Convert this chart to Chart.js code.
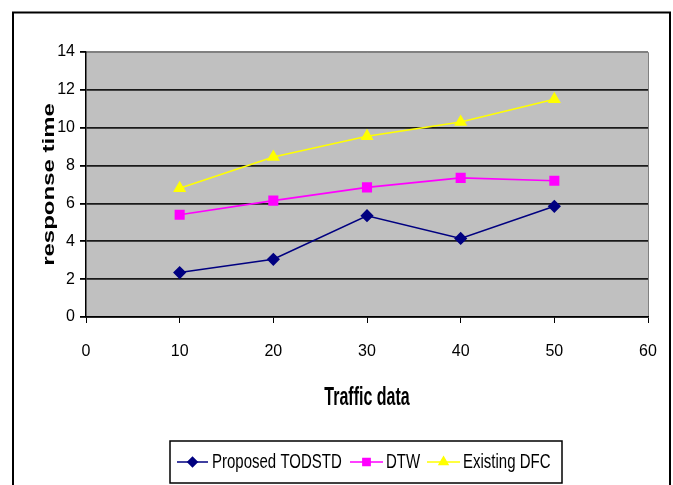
<!DOCTYPE html>
<html>
<head>
<meta charset="utf-8">
<script src="https://cdn.jsdelivr.net/npm/chart.js@4.4.0/dist/chart.umd.min.js"></script>
<style>
html,body{margin:0;padding:0;background:#fff;}
#wrap{position:relative;width:673px;height:485px;}
</style>
</head>
<body>
<div id="wrap"><canvas id="c" width="673" height="485"></canvas></div>
<script>
const xValues = [10, 20, 30, 40, 50];
const proposedTODSTD = [2.35, 3.05, 5.35, 4.15, 5.85];
const dtw = [5.4, 6.15, 6.85, 7.35, 7.2];
const existingDFC = [6.8, 8.45, 9.55, 10.3, 11.5];
const seriesNames = ['Proposed TODSTD', 'DTW', 'Existing DFC'];
const xTitle = 'Traffic data';
const yTitle = 'response time';

const FONT = '"Liberation Sans", Arial, sans-serif';

function pts(ys){ return xValues.map((x,i)=>({x:x, y:ys[i]})); }

function stretchedText(ctx, text, x, y, sx, sy, font, align, rot){
  ctx.save();
  ctx.translate(x, y);
  if (rot) ctx.rotate(rot);
  ctx.scale(sx, sy);
  ctx.font = font;
  ctx.fillStyle = '#000';
  ctx.textAlign = align || 'center';
  ctx.textBaseline = 'middle';
  ctx.fillText(text, 0, 0);
  ctx.restore();
}

const decor = {
  id: 'decor',
  beforeDraw(chart){
    const {ctx, chartArea: a} = chart;
    ctx.save();
    ctx.fillStyle = '#fff';
    ctx.fillRect(0,0,chart.width,chart.height);
    ctx.fillStyle = '#C0C0C0';
    ctx.fillRect(a.left, a.top, a.right - a.left, a.bottom - a.top);
    ctx.strokeStyle = '#808080';
    ctx.lineWidth = 1;
    ctx.beginPath();
    ctx.moveTo(a.left, a.top + 0.5);
    ctx.lineTo(a.right + 0.5, a.top + 0.5);
    ctx.lineTo(a.right + 0.5, a.bottom);
    ctx.stroke();
    ctx.restore();
  },
  afterDraw(chart){
    const {ctx} = chart;
    ctx.save();
    // outer frame
    ctx.strokeStyle = '#000';
    ctx.lineWidth = 2;
    ctx.strokeRect(13, 12.5, 657, 480);
    // axis titles
    const bold = 'bold 16px ' + FONT;
    const xs = chart.scales.x, ys = chart.scales.y;
    stretchedText(ctx, xTitle, (xs.left + xs.right)/2, 398, 1, 1.6, bold, 'center', 0);
    stretchedText(ctx, yTitle, 49, (ys.top + ys.bottom)/2, 1.5, 1.05, bold, 'center', -Math.PI/2);
    // legend box
    const lx = 170, ly = 441, lw = 392, lh = 42;
    ctx.fillStyle = '#fff';
    ctx.fillRect(lx, ly, lw, lh);
    ctx.strokeStyle = '#000';
    ctx.lineWidth = 1.5;
    ctx.strokeRect(lx, ly, lw, lh);
    const cy = 462;
    const items = [
      {x0:177, x1:208, tx:212},
      {x0:350, x1:383, tx:386},
      {x0:427, x1:460, tx:463}
    ];
    chart.data.datasets.forEach((ds, i) => {
      const it = items[i];
      ctx.strokeStyle = ds.borderColor;
      ctx.lineWidth = 1.5;
      ctx.beginPath();
      ctx.moveTo(it.x0, cy); ctx.lineTo(it.x1, cy); ctx.stroke();
      Chart.helpers.drawPoint(ctx, {
        pointStyle: ds.pointStyle, radius: ds.pointRadius * 0.85, borderWidth: 1, rotation: 0
      }, (it.x0 + it.x1)/2, cy);
      ctx.fillStyle = ds.pointBackgroundColor;
      ctx.strokeStyle = ds.pointBorderColor;
      ctx.fill();
      stretchedText(ctx, ds.label, it.tx, cy, 1, 1.35, '15px ' + FONT, 'left', 0);
    });
    ctx.restore();
  }
};

const mk = (label, data, color, style, r) => ({
  label, data: pts(data),
  borderColor: color, backgroundColor: color,
  pointBackgroundColor: color, pointBorderColor: color,
  pointStyle: style, pointRadius: r, pointHoverRadius: r,
  borderWidth: 1.6, tension: 0
});

new Chart(document.getElementById('c'), {
  type: 'line',
  data: {
    datasets: [
      mk(seriesNames[0], proposedTODSTD, '#000080', 'rectRot', 5.5),
      mk(seriesNames[1], dtw, '#FF00FF', 'rect', 6),
      mk(seriesNames[2], existingDFC, '#FFFF00', 'triangle', 6)
    ]
  },
  plugins: [decor],
  options: {
    responsive: false,
    animation: false,
    devicePixelRatio: 1,
    layout: { padding: { left: 0, right: 25, top: 52, bottom: 0 } },
    plugins: { legend: { display: false }, tooltip: { enabled: false } },
    scales: {
      x: {
        type: 'linear', min: 0, max: 60,
        ticks: { stepSize: 10, color: '#000', padding: 19, font: { family: FONT, size: 16 }, maxRotation: 0 },
        grid: { drawOnChartArea: false, drawTicks: true, tickLength: 6, color: '#000', tickColor: '#000' },
        border: { display: true, color: '#000', width: 1.5 },
        afterFit(s){ s.height = 168; s.paddingRight = 0; s.paddingLeft = 0; }
      },
      y: {
        min: 0, max: 14,
        ticks: { stepSize: 2, color: '#000', padding: 5, font: { family: FONT, size: 16 } },
        grid: { tickLength: 6, lineWidth: 1.8,
          color: (c) => (c.tick && c.tick.value === 14) ? '#808080' : '#1a1a1a',
          tickColor: '#000' },
        border: { display: true, color: '#000', width: 1.5 },
        afterFit(s){ s.width = 86; }
      }
    }
  }
});
</script>
</body>
</html>
